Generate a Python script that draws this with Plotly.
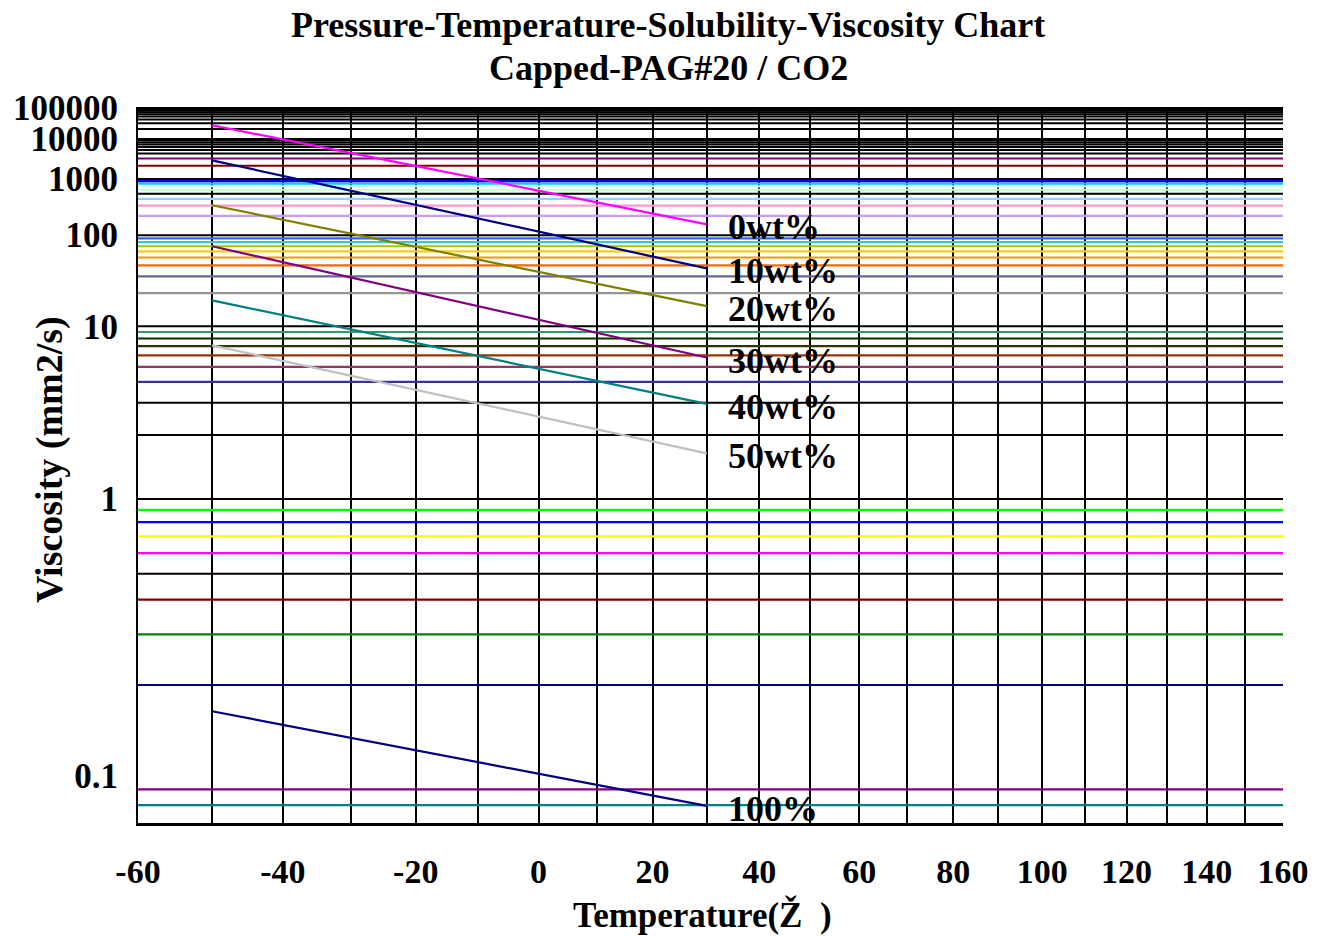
import numpy as np
import plotly.graph_objects as go

# ---------------- data ----------------
# temperature axis (deg C)
x_tick_temps = list(range(-60, 161, 10))
x_label_temps = list(range(-60, 161, 20))

# viscosity axis tick labels (mm2/s)
y_tick_vals = [0.1, 1, 10, 100, 1000, 10000, 100000]
y_tick_text = ["0.1", "1", "10", "100", "1000", "10000", "100000"]

# black reference lines (mm2/s)
black_lines = [0.5, 1, 2, 3, 10, 100, 500, 1000, 4000, 5000, 6000, 7000, 8000,
               9000, 10000, 20000, 30000, 40000, 50000, 60000, 70000, 80000,
               90000, 100000]

# coloured reference lines (mm2/s) and their colours
color_lines = [0.08, 0.09, 0.2, 0.3, 0.4, 0.6, 0.7, 0.8, 0.9, 4, 5, 6, 7, 8, 9,
               20, 30, 40, 50, 60, 70, 80, 90, 200, 300, 400, 600, 700, 800,
               900, 2000, 3000]
color_line_colors = ["#008080", "#800080", "#000080", "#008000", "#800000",
                     "#FF00FF", "#FFFF00", "#0000FF", "#00FF00", "#333399",
                     "#993366", "#993300", "#333300", "#003300", "#339966",
                     "#969696", "#666699", "#FF6600", "#FF9900", "#FFCC00",
                     "#99CC00", "#33CCCC", "#3366FF", "#CC99FF", "#FF99CC",
                     "#99CCFF", "#CCFFCC", "#CCFFFF", "#00CCFF", "#0000FF",
                     "#800000", "#800080"]

# solubility series: viscosity at -50 and 30 deg C
series_temps = [-50, 30]
series_names = ["0wt%", "10wt%", "20wt%", "30wt%", "40wt%", "50wt%", "100%"]
series_values = [
    [26000, 146],
    [2700, 37],
    [305, 15],
    [70, 5.8],
    [17, 2.95],
    [7.1, 1.62],
    [0.163, 0.0795],
]
series_colors = ["#FF00FF", "#000080", "#808000", "#800080", "#008080",
                 "#C0C0C0", "#000080"]

x_min_temp, x_max_temp = -60, 160
y_min_visc, y_max_visc = 0.07, 100000

title_lines = ["Pressure-Temperature-Solubility-Viscosity Chart",
               "Capped-PAG#20 / CO2"]
x_title = "Temperature(Ž  )"
y_title = "Viscosity (mm2/s)"


# ---------------- scales (ASTM-style chart) ----------------
def tx(t):
    return np.log10(np.asarray(t, dtype=float) + 273.15)


def wv(v):
    return np.log10(np.log10(np.asarray(v, dtype=float) + 1.0))


FONT = "Liberation Serif"


def bfont(size):
    return dict(family=FONT, size=size, color="black", weight="bold")


fig = go.Figure()

xl = tx([x_min_temp, x_max_temp])
for v, c in zip(color_lines, color_line_colors):
    fig.add_trace(go.Scatter(x=xl, y=[wv(v)] * 2, mode="lines",
                             line=dict(color=c, width=2.2), hoverinfo="skip"))
for v in black_lines:
    fig.add_trace(go.Scatter(x=xl, y=[wv(v)] * 2, mode="lines",
                             line=dict(color="black", width=2), hoverinfo="skip"))

for name, vals, c in zip(series_names, series_values, series_colors):
    fig.add_trace(go.Scatter(x=tx(series_temps), y=wv(vals), mode="lines",
                             name=name, line=dict(color=c, width=2.2)))
    fig.add_annotation(x=float(tx(series_temps[-1])), y=float(wv(vals[-1])),
                       text=name, showarrow=False, xanchor="left",
                       yanchor="middle", xshift=19, yshift=-3,
                       font=bfont(36))

# titles as paper-positioned annotations
fig.add_annotation(text=title_lines[0], xref="paper", yref="paper",
                   x=0.4629, y=1.1145, xanchor="center", yanchor="middle",
                   showarrow=False, font=bfont(36))
fig.add_annotation(text=title_lines[1], xref="paper", yref="paper",
                   x=0.4629, y=1.0545, xanchor="center", yanchor="middle",
                   showarrow=False, font=bfont(36))
fig.add_annotation(text=x_title, xref="paper", yref="paper",
                   x=0.4934, y=-0.1285, xanchor="center", yanchor="middle",
                   showarrow=False, font=bfont(35))
fig.add_annotation(text=y_title, xref="paper", yref="paper",
                   x=-0.0769, y=0.5084, xanchor="center", yanchor="middle",
                   textangle=-90, showarrow=False, font=bfont(38))

fig.update_layout(
    width=1317, height=936,
    margin=dict(l=138, r=34, t=107, b=113, autoexpand=False),
    paper_bgcolor="white", plot_bgcolor="white",
    showlegend=False,
)

fig.update_xaxes(
    range=[float(xl[0]), float(xl[1])],
    tickmode="array",
    tickvals=tx(x_tick_temps),
    ticktext=[str(t) if t in x_label_temps else "" for t in x_tick_temps],
    showgrid=True, gridcolor="black", gridwidth=2,
    zeroline=False, showline=True, linecolor="black", linewidth=3,
    ticks="", ticklabelstandoff=16, automargin=False,
    tickfont=bfont(34),
)
fig.update_yaxes(
    range=[float(wv(y_min_visc)), float(wv(y_max_visc)) + 0.003],
    tickmode="array",
    tickvals=wv(y_tick_vals), ticktext=y_tick_text,
    showgrid=False, zeroline=False,
    showline=True, linecolor="black", linewidth=2,
    ticks="", ticklabelstandoff=11, automargin=False,
    tickfont=bfont(35),
)

# remove the default 8px page margin so the figure fills the window exactly
fig.write_html("out.html",
               config={"displayModeBar": False},
               post_script="document.body.style.margin='0';"
                           "document.body.style.overflow='hidden';")
